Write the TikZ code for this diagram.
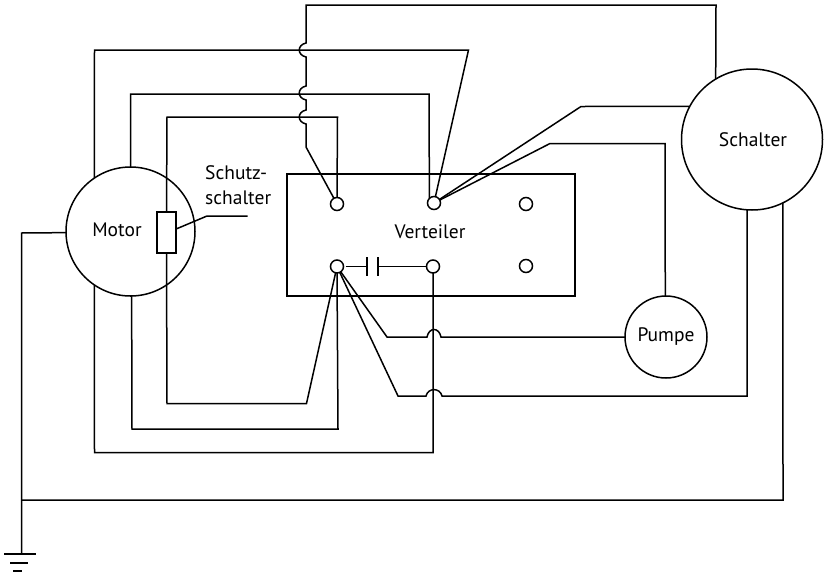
\documentclass[tikz,border=0pt]{standalone}
\usepackage{fontspec}
\setmainfont{PT Sans}
\tikzset{
    wire/.style={line width=1.5pt, line join=miter},
    unit/.style={draw, circle, line width=1.5pt, inner sep=0, outer sep=0},
    terminal/.style={draw, circle, fill=white, line width=1.5pt, inner sep=0, outer sep=0, minimum size=13pt},
    label/.style={font=\fontsize{19.5}{25}\selectfont, inner sep=0}
}
\begin{document}
\begin{tikzpicture}[x=1pt, y=-1pt]
            \useasboundingbox(0, 0) rectangle (824, 576);
            \node[unit, minimum size=129pt](motor) at (130.5, 231.5){};
            \node[unit, minimum size=141pt](schalter) at (752, 139.5){};
            \node[unit, minimum size=82pt](pumpe) at (666, 337){};
            \node[draw, line width=1.5pt, inner sep=0, outer sep=0, minimum width=288pt, minimum height=122pt](verteiler) at (431, 235){};
            \node[draw, line width=1.5pt, inner sep=0, outer sep=0, minimum width=19pt, minimum height=41pt](schutz) at (166.5, 232.5){};
            \node[terminal](t1) at (337, 204){};
            \node[terminal](t2) at (434, 203){};
            \node[terminal](t3) at (337, 266.5){};
            \node[terminal](t4) at (433, 266.5){};
            \node[terminal](t5) at (526, 204){};
            \node[terminal](t6) at (526, 266){};
            \node[label](motorlabel) at (117, 229.5){Motor};
            \node[label](schalterlabel) at (753, 140){Schalter};
            \node[label](pumpelabel) at (666, 337){Pumpe};
            \node[label](verteilerlabel) at (430, 232){Verteiler};
            \node[label, align=left, anchor=north west](schutzlabel) at (205, 165){Schutz-\\schalter};
            \coordinate(capl) at (367, 266.5);
            \coordinate(capr) at (378, 266.5);
            \coordinate(gnd) at (21.5, 554);
            \draw[wire](schalter.121)--(716, 5)--(306, 5)--(306, 43)
                ..controls(297, 45)and(297, 55)..(306, 57)--(306, 86)
                ..controls(297, 88)and(297, 98)..(306, 100)--(306, 110)
                ..controls(297, 112)and(297, 122)..(306, 124)--(306, 147)--(t1);
            \draw[wire](motor.124)--(94.5, 50)--(468.5, 50)--(t2);
            \draw[wire](motor.90)--(130.5, 94)--(429, 94)--(t2.135);
            \draw[wire](schutz.north)--(167, 117)--(337.5, 117)--(t1.north);
            \draw[wire](schutz.south)--(167, 403.5)--(306.5, 403.5)--(t3);
            \draw[wire](motor.271)--(132, 429)--(338, 429)--(t3.south);
            \draw[wire](motor.236)--(94.5, 452.5)--(433, 452.5)--(t4.south);
            \draw[wire](t3)--(387, 337)--(427, 337)
                ..controls(429, 327)and(439, 327)..(441, 337)--(pumpe.west);
            \draw[wire](t3)--(398, 396)--(426, 396)
                ..controls(428, 387.5)and(440, 387.5)..(442, 396)--(747, 396)--(schalter.266);
            \draw[wire](t2)--(581, 106.5)--(schalter.152);
            \draw[wire](t2)--(550, 143.5)--(665, 143.5)--(pumpe.91);
            \draw[wire](schalter.296)--(783, 500)--(21.5, 500);
            \draw[wire](motor.181)--(21.5, 233)--(gnd);
            \draw[wire](schutz.20)--(207, 216)--(247.5, 216);
            \draw[wire, shorten <=2pt](t3.east)--(capl);
            \draw[wire](capr)--(t4.west);
            \draw[wire](367, 257)--(367, 276);
            \draw[wire](378, 257)--(378, 276);
            \draw[wire](4, 554)--(36, 554);
            \draw[wire](10, 563)--(28, 563);
            \draw[wire](13, 571)--(22, 571);
        \end{tikzpicture}
\end{document}
